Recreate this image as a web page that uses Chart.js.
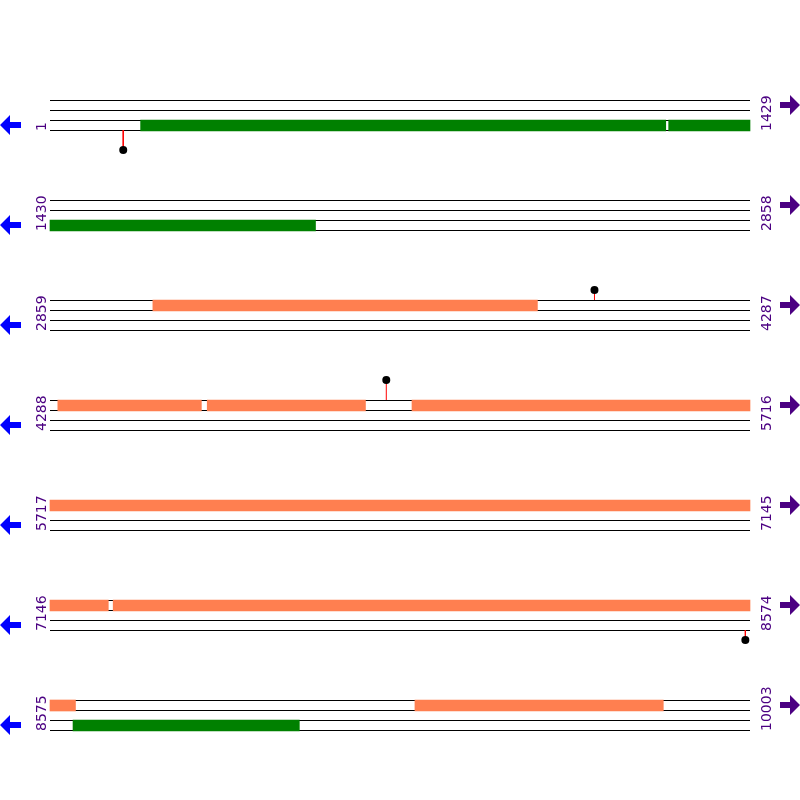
<!DOCTYPE html>
<html>
<head>
<meta charset="utf-8">
<script src="https://cdn.jsdelivr.net/npm/chart.js@4.4.1/dist/chart.umd.min.js"></script>
<style>html,body{margin:0;padding:0;background:#fff}</style>
</head>
<body>
<canvas id="map" width="800" height="800"></canvas>
<script>
// sequence split in rows of 1429 bp
const rowLen = 1429
const rowStartLabels = ['1', '1430', '2859', '4288', '5717', '7146', '8575']
const rowEndLabels = ['1429', '2858', '4287', '5716', '7145', '8574', '10003']

// features (absolute positions)
const featStart = [186, 1264, 3069, 4304, 4609, 5027, 7275, 8622, 9320]
const featEnd = [1257, 1971, 3853, 4596, 4931, 7264, 8626, 9083, 9826]
const featLane = [2, 2, 0, 0, 0, 0, 0, 2, 0]
const featKind = ['gene', 'gene', 'cds', 'cds', 'cds', 'cds', 'cds', 'gene', 'cds']

// site markers
const sitePos = [150, 3970, 4974, 8565]
const siteSide = ['below', 'above', 'above', 'below']
const siteLen = [2, 1, 2, 1]

const kindColor = { gene: '#008000', cds: '#FF7F50' }
const nRows = rowStartLabels.length
const rowFirst = rowStartLabels.map(Number)
const rowLast = rowEndLabels.map(Number)

function rowOf(pos) {
    for (let r = 0; r < nRows; r++) if (pos >= rowFirst[r] && pos <= rowLast[r]) return r
    return nRows - 1
}

// lane lines
const datasets = []
for (let r = 0; r < nRows; r++) {
    for (let k = 0; k < 4; k++) {
        const v = r + k / 10 + 0.005
        datasets.push({
            type: 'line', indexAxis: 'x', order: 3,
            data: [{ x: 0, y: v }, { x: rowLast[r] - rowFirst[r] + 1, y: v }],
            borderColor: '#000', borderWidth: 1, pointRadius: 0
        })
    }
}

// feature bars, cut at row ends
const bars = { gene: [], cds: [] }
featStart.forEach((s, i) => {
    const e = featEnd[i]
    for (let r = rowOf(s); r <= rowOf(e); r++) {
        const a = Math.max(s, rowFirst[r]), b = Math.min(e, rowLast[r])
        bars[featKind[i]].push({ x: [a - rowFirst[r], b - rowFirst[r] + 1], y: r + (featLane[i] * 10 + 5.5) / 100 })
    }
})
Object.keys(bars).forEach(kind => {
    datasets.push({
        type: 'bar', order: 2, data: bars[kind], backgroundColor: kindColor[kind],
        borderWidth: 0, barThickness: 11, grouped: false
    })
})

// lollipops
sitePos.forEach((p, i) => {
    const r = rowOf(p)
    const x = p - rowFirst[r] + 0.5
    const base = siteSide[i] === 'below' ? r + 0.3 : r
    const tip = siteSide[i] === 'below' ? base + siteLen[i] / 10 : base - siteLen[i] / 10
    datasets.push({
        type: 'line', indexAxis: 'x', order: 1,
        data: [{ x: x, y: base }, { x: x, y: tip }],
        borderColor: '#ff0000', borderWidth: 1,
        pointRadius: [0, 4], pointBackgroundColor: '#000', pointBorderWidth: 0
    })
})

const labelsPlugin = {
    id: 'rowLabels',
    afterDraw(chart) {
        const ctx = chart.ctx
        const xs = chart.scales.x, ys = chart.scales.y
        const x0 = xs.getPixelForValue(0), x1 = xs.getPixelForValue(rowLen)
        ctx.save()
        ctx.font = '14px "DejaVu Sans"'
        ctx.textAlign = 'left'
        ctx.textBaseline = 'alphabetic'
        for (let r = 0; r < nRows; r++) {
            const top = ys.getPixelForValue(r)
            const bottom = ys.getPixelForValue(r + 0.3)
            ctx.fillStyle = '#4B0082'
            ctx.save()
            ctx.translate(x0 - 4, bottom + 1)
            ctx.rotate(-Math.PI / 2)
            ctx.fillText(rowStartLabels[r], 0, 0)
            ctx.restore()
            ctx.save()
            ctx.translate(x1 + 21, bottom + 1)
            ctx.rotate(-Math.PI / 2)
            ctx.fillText(rowEndLabels[r], 0, 0)
            ctx.restore()

            // reverse strand arrow
            let cy = top + 25
            let tx = x0 - 50
            ctx.fillStyle = '#0000FF'
            ctx.beginPath()
            ctx.moveTo(tx, cy)
            ctx.lineTo(tx + 10, cy - 10)
            ctx.lineTo(tx + 10, cy - 3)
            ctx.lineTo(tx + 21, cy - 3)
            ctx.lineTo(tx + 21, cy + 3)
            ctx.lineTo(tx + 10, cy + 3)
            ctx.lineTo(tx + 10, cy + 10)
            ctx.closePath()
            ctx.fill()

            // forward strand arrow
            cy = top + 5
            tx = x1 + 50
            ctx.fillStyle = '#4B0082'
            ctx.beginPath()
            ctx.moveTo(tx, cy)
            ctx.lineTo(tx - 10, cy - 10)
            ctx.lineTo(tx - 10, cy - 3)
            ctx.lineTo(tx - 20, cy - 3)
            ctx.lineTo(tx - 20, cy + 3)
            ctx.lineTo(tx - 10, cy + 3)
            ctx.lineTo(tx - 10, cy + 10)
            ctx.closePath()
            ctx.fill()
        }
        ctx.restore()
    }
}

const pad = rowLen * 50 / 700
new Chart(document.getElementById('map'), {
    type: 'bar',
    data: { datasets },
    options: {
        indexAxis: 'y',
        responsive: false,
        animation: false,
        layout: { padding: 0, autoPadding: false },
        plugins: { legend: { display: false }, tooltip: { enabled: false } },
        scales: {
            x: { type: 'linear', min: -pad, max: rowLen + pad, display: false, offset: false },
            y: { type: 'linear', min: -1, max: 7, reverse: true, display: false, offset: false }
        }
    },
    plugins: [labelsPlugin]
})
</script>
</body>
</html>
